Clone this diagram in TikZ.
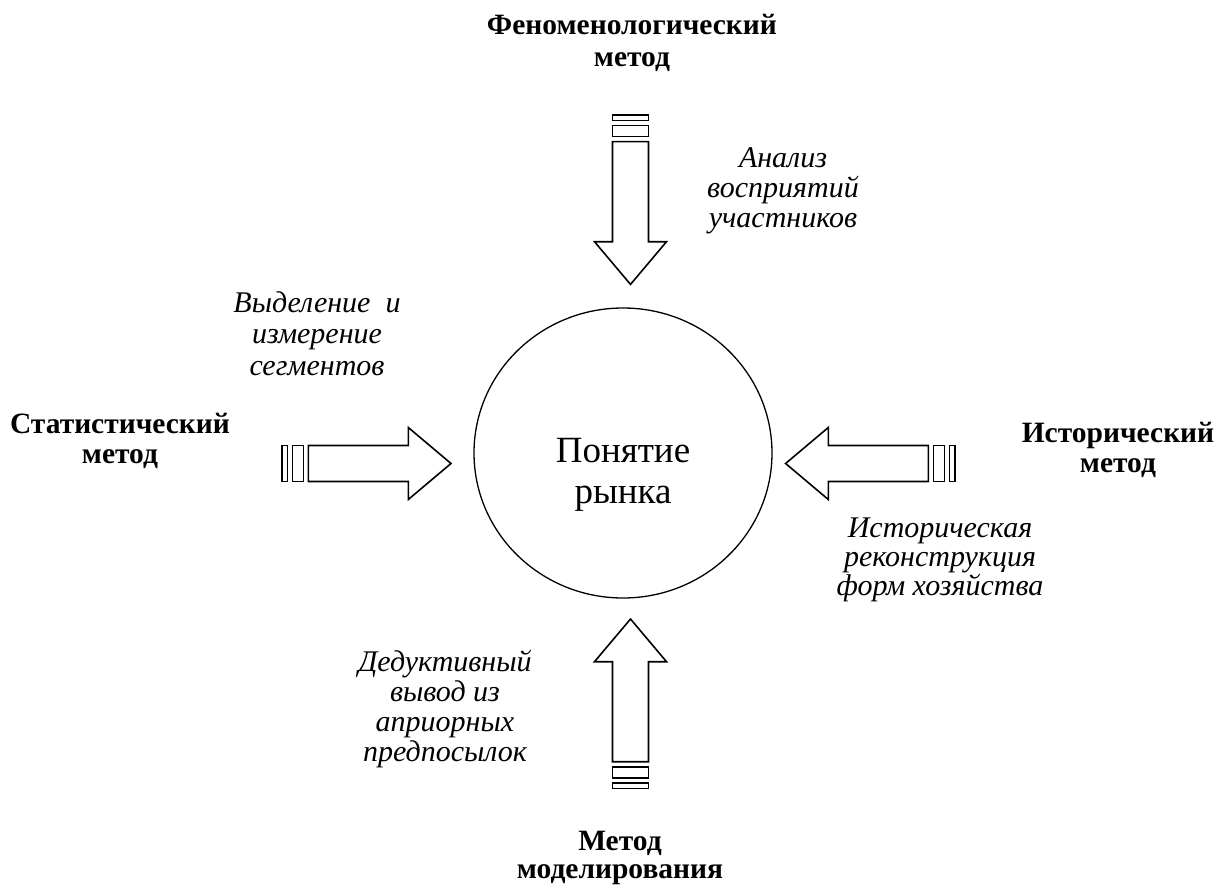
\documentclass[tikz,border=0pt]{standalone}
\usepackage{fontspec}
\setmainfont{Liberation Serif}
\usetikzlibrary{shapes.geometric}
\tikzset{
  x=1pt, y=-1pt,
  outline/.style={draw=black, line width=1.6pt, fill=white, line join=miter},
  method/.style={font=\bfseries\fontsize{29.5}{30}\selectfont, align=center, anchor=base, inner sep=0pt},
  how/.style={font=\itshape\fontsize{30}{30}\selectfont, align=center, anchor=base, inner sep=0pt},
  core/.style={draw=black, line width=1.3pt, ellipse, minimum width=298pt, minimum height=290pt, inner sep=0pt},
  coretext/.style={font=\fontsize{37}{41}\selectfont, align=center, anchor=base, inner sep=0pt}
}
\newcommand{\blockarr}[2]{%
  \begin{scope}[shift={(#1)}, rotate=#2]
    \draw[outline] (0,-18) -- (100,-18) -- (100,-36) -- (142.7,0) -- (100,36) -- (100,18) -- (0,18) -- cycle;
    \draw[outline] (-16,-18) rectangle (-5,18);
    \draw[outline] (-26.6,-18) rectangle (-21,18);
  \end{scope}}
\begin{document}
\begin{tikzpicture}
\useasboundingbox (0,0) rectangle (1219,888);
\node[core] (market) at (623,453) {};
\node[coretext] (marketlabel) at (623,503) {Понятие\\рынка};

\coordinate (topstart) at (630.5,141.7);
\coordinate (leftstart) at (308.3,463.5);
\coordinate (rightstart) at (928.3,463.5);
\coordinate (botstart) at (630.5,761.7);
\blockarr{topstart}{-90}
\blockarr{leftstart}{0}
\blockarr{rightstart}{180}
\blockarr{botstart}{90}

\node[method] (phen) at (632,67) {Феноменологический\\[2pt]метод};
\node[method] (stat) at (120,463) {Статистический\\метод};
\node[method] (hist) at (1118,472) {Исторический\\метод};
\node[method] (model) at (620,878) {Метод\\[-2pt]моделирования};

\node[how] (anal) at (783,227) {Анализ\\восприятий\\участников};
\node[how] (vyd) at (317,375) {Выделение\ \ и\\[1.5pt]измерение\\[1.5pt]сегментов};
\node[how] (istr) at (940,595) {Историческая\\[-1pt]реконструкция\\[-1pt]форм хозяйства};
\node[how] (ded) at (445,761) {Дедуктивный\\вывод из\\априорных\\предпосылок};
\end{tikzpicture}
\end{document}
